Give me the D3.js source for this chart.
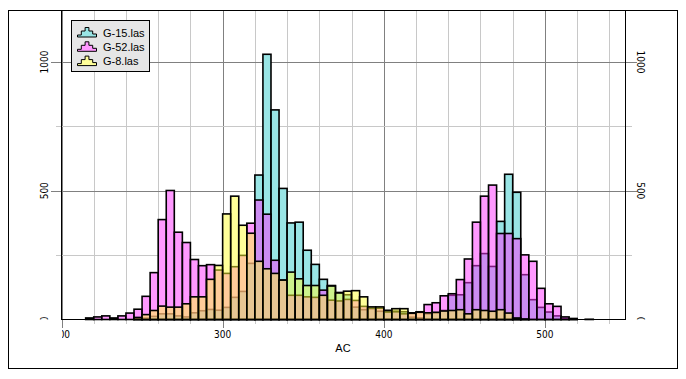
<!DOCTYPE html>
<html>
<head>
<meta charset="utf-8">
<script src="https://cdn.jsdelivr.net/npm/d3@7"></script>
<style>
  body { margin: 0; background: #fff; }
  svg { display: block; font-family: "Liberation Sans", Arial, sans-serif; }
  .lbl { font-family: "Liberation Sans Narrow", "DejaVu Sans Condensed", sans-serif; font-size: 10px; }
</style>
</head>
<body>
<svg width="686" height="379"></svg>
<script>
// left edge of every AC bin (bin width 5)
var binStarts = [200,205,210,215,220,225,230,235,240,245,
                 250,255,260,265,270,275,280,285,290,295,
                 300,305,310,315,320,325,330,335,340,345,
                 350,355,360,365,370,375,380,385,390,395,
                 400,405,410,415,420,425,430,435,440,445,
                 450,455,460,465,470,475,480,485,490,495,
                 500,505,510,515,520,525,530,535,540,545];

// counts per bin
var g15 = [0,0,0,0,0,0,0,0,0,3,
           5,12,22,22,14,10,26,34,39,36,
           47,86,109,218,561,1030,814,509,375,378,
           269,214,156,132,105,96,48,38,42,32,
           35,32,30,9,6,22,26,35,94,96,
           143,209,256,206,381,564,494,174,77,47,
           29,14,4,2,0,1,0,0,0,0];

var g52 = [0,0,0,6,10,14,6,14,25,40,
           90,182,388,501,339,299,233,209,213,192,
           179,205,249,374,464,409,230,153,94,94,
           88,86,114,75,72,78,74,51,44,44,
           29,30,22,26,30,58,65,92,100,155,
           235,378,479,522,334,334,314,251,226,121,
           61,51,10,4,0,0,0,0,0,0];

var g8 = [0,0,0,0,0,0,0,0,0,8,
          19,35,52,48,48,61,88,88,156,210,
          410,479,366,335,226,197,179,153,184,158,
          132,132,94,130,103,110,112,88,49,49,
          35,42,42,24,28,26,28,33,35,38,
          22,38,35,32,38,25,6,2,0,0,
          0,0,0,0,0,0,0,0,0,0];

var seriesNames = ["G-15.las", "G-52.las", "G-8.las"];
var seriesColors = ["#33cccc", "#ff33ff", "#ffff33"];

// ticks
var xMajor = [200, 300, 400, 500];
var xMinor = [220,240,260,280,320,340,360,380,420,440,460,480,520,540];
var xLabels = [200, 300, 400, 500];
var yMajor = [500, 1000];
var yMinor = [250, 750];
var yLabels = [0, 500, 1000];

var svg = d3.select("svg");
var plot = { left: 61.5, right: 625.5, top: 10.5, bottom: 319.5 };
var binWidth = 5;

var x = d3.scaleLinear().domain([200, 550]).range([plot.left, plot.right]);
var y = d3.scaleLinear().domain([0, 1200]).range([plot.bottom, plot.top]);

var major = "#808080", minor = "#c8c8c8";

// outer frame
svg.append("rect")
  .attr("x", 8.5).attr("y", 10.5).attr("width", 669).attr("height", 358)
  .attr("fill", "#fff").attr("stroke", "#000");

/** grid lines + ticks */
var grid = svg.append("g").attr("shape-rendering", "crispEdges");
grid.selectAll(".vmin").data(xMinor).enter().append("line")
  .attr("x1", d => Math.round(x(d)) + 0.5).attr("x2", d => Math.round(x(d)) + 0.5)
  .attr("y1", plot.top).attr("y2", plot.bottom + 4)
  .attr("stroke", minor);
grid.selectAll(".vmaj").data(xMajor).enter().append("line")
  .attr("x1", d => Math.round(x(d)) + 0.5).attr("x2", d => Math.round(x(d)) + 0.5)
  .attr("y1", plot.top).attr("y2", plot.bottom + 8)
  .attr("stroke", major);
grid.selectAll(".hmin").data(yMinor).enter().append("line")
  .attr("x1", plot.left - 6).attr("x2", plot.right + 6)
  .attr("y1", d => Math.round(y(d)) + 0.5).attr("y2", d => Math.round(y(d)) + 0.5)
  .attr("stroke", minor);
grid.selectAll(".hmaj").data(yMajor).enter().append("line")
  .attr("x1", plot.left - 11).attr("x2", plot.right + 11)
  .attr("y1", d => Math.round(y(d)) + 0.5).attr("y2", d => Math.round(y(d)) + 0.5)
  .attr("stroke", major);

/** bars */
var table = binStarts.map((b, i) => ({ b: b, vals: [g15[i], g52[i], g8[i]] }));

// white backing so the grid does not show through the translucent bars
svg.append("g").selectAll("rect")
  .data(table.filter(d => d3.max(d.vals) > 0))
  .enter().append("rect")
  .attr("x", d => x(d.b))
  .attr("width", d => x(d.b + binWidth) - x(d.b))
  .attr("y", d => y(d3.max(d.vals)))
  .attr("height", d => y(0) - y(d3.max(d.vals)))
  .attr("fill", "#fff");

seriesColors.forEach(function (col, s) {
  svg.append("g").selectAll("rect")
    .data(table.filter(d => d.vals[s] > 0))
    .enter().append("rect")
    .attr("x", d => x(d.b))
    .attr("width", d => x(d.b + binWidth) - x(d.b))
    .attr("y", d => y(d.vals[s]))
    .attr("height", d => y(0) - y(d.vals[s]))
    .attr("fill", col)
    .attr("fill-opacity", 0.5)
    .attr("stroke", "#000")
    .attr("stroke-width", 1.6);
});

// plot frame
svg.append("rect")
  .attr("x", plot.left).attr("y", plot.top)
  .attr("width", plot.right - plot.left).attr("height", plot.bottom - plot.top)
  .attr("fill", "none").attr("stroke", "#000").attr("shape-rendering", "crispEdges");

/** labels */
var defs = svg.append("defs");
defs.append("clipPath").attr("id", "clipX").append("rect")
  .attr("x", 62).attr("y", 320).attr("width", 620).attr("height", 30);
defs.append("clipPath").attr("id", "clipY").append("rect")
  .attr("x", 0).attr("y", 0).attr("width", 686).attr("height", 319.5);

svg.append("g").attr("clip-path", "url(#clipX)")
  .selectAll("text").data(xLabels).enter().append("text")
  .attr("class", "lbl")
  .attr("x", d => x(d)).attr("y", 338)
  .attr("text-anchor", "middle")
  .text(d => d);

var yl = svg.append("g").attr("clip-path", "url(#clipY)");
yl.selectAll(".yl").data(yLabels).enter().append("text")
  .attr("class", "lbl")
  .attr("transform", d => `translate(48,${y(d)}) rotate(-90)`)
  .attr("text-anchor", "middle")
  .text(d => d);
yl.selectAll(".yr").data(yLabels).enter().append("text")
  .attr("class", "lbl")
  .attr("transform", d => `translate(637,${y(d)}) rotate(90)`)
  .attr("text-anchor", "middle")
  .text(d => d);

svg.append("text")
  .attr("x", 343).attr("y", 352)
  .attr("text-anchor", "middle")
  .attr("font-size", 11)
  .text("AC");

/** legend */
var pale = ["#99e5e5", "#ff99ff", "#ffff99"];
var legend = svg.append("g");
legend.append("rect")
  .attr("x", 71.5).attr("y", 20.5).attr("width", 78).attr("height", 51)
  .attr("fill", "#e6e6e6").attr("stroke", "#000");

// little histogram glyph
var iconSteps = [2, 6, 9.5, 6, 3];
function iconPath(x0, base) {
  var w = 3.8, p = "M" + x0 + "," + base;
  iconSteps.forEach(function (h, i) {
    p += "L" + (x0 + i * w) + "," + (base - h) + "L" + (x0 + (i + 1) * w) + "," + (base - h);
  });
  return p + "L" + (x0 + iconSteps.length * w) + "," + base + "Z";
}

seriesNames.forEach(function (name, i) {
  var base = 37 + i * 14.3;
  legend.append("path")
    .attr("d", iconPath(77.5, base))
    .attr("fill", pale[i]).attr("stroke", "#000").attr("stroke-width", 1);
  legend.append("text")
    .attr("x", 103).attr("y", base - 0.5)
    .attr("font-size", 11)
    .text(name);
});
</script>
</body>
</html>
